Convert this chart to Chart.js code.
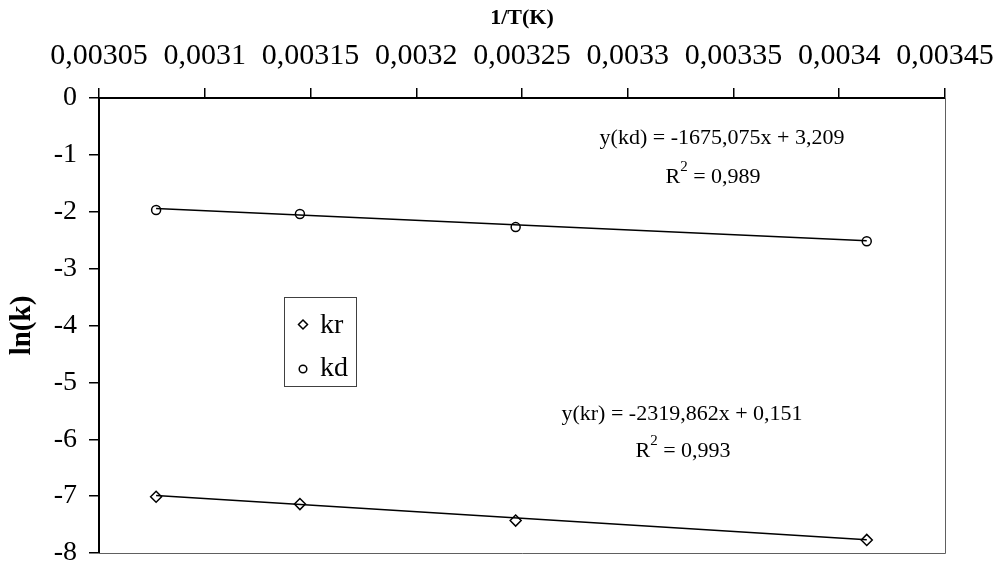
<!DOCTYPE html>
<html lang="en">
	<head>
		<meta charset="UTF-8" />
		<title>ln(k) vs 1/T</title>
		<script src="https://cdn.jsdelivr.net/npm/chart.js@4.4.1/dist/chart.umd.min.js"></script>
		<style>
			body {
				margin: 0;
				background: #fff;
			}
			#wrap {
				width: 1002px;
				height: 567px;
			}
		</style>
	</head>
	<body>
		<div id="wrap"><canvas id="arrhenius" width="1002" height="567"></canvas></div>
		<script>
			// Data
			const xTicks = [0.00305, 0.0031, 0.00315, 0.0032, 0.00325, 0.0033, 0.00335, 0.0034, 0.00345]
			const yTicks = [-8, -7, -6, -5, -4, -3, -2, -1, 0]
			const invT = [0.003077, 0.003145, 0.003247, 0.003413]
			const lnKr = [-7.01, -7.14, -7.43, -7.77]
			const lnKd = [-1.97, -2.04, -2.27, -2.52]
			// trend line end points (first and last 1/T)
			const fitX = [0.003077, 0.003413]
			const krFit = [-6.987, -7.767]
			const kdFit = [-1.945, -2.508]

			const serif = '"Liberation Serif", "Times New Roman", serif'

			function pts(xs, ys) {
				return xs.map((x, i) => ({ x: x, y: ys[i] }))
			}

			function fmt(v) {
				return Number(v.toFixed(6)).toString().replace('.', ',')
			}

			// text on the plot: equations, legend box, grey frame
			const extras = {
				id: 'extras',
				beforeDraw(chart) {
					const ctx = chart.ctx
					ctx.save()
					ctx.fillStyle = '#fff'
					ctx.fillRect(0, 0, chart.width, chart.height)
					ctx.restore()
				},
				afterDraw(chart) {
					const ctx = chart.ctx
					const a = chart.chartArea
					ctx.save()

					// right + bottom frame
					ctx.strokeStyle = '#606060'
					ctx.lineWidth = 1
					ctx.beginPath()
					ctx.moveTo(a.left, a.bottom + 0.5)
					ctx.lineTo(a.right + 0.5, a.bottom + 0.5)
					ctx.lineTo(a.right + 0.5, a.top)
					ctx.stroke()

					// equations
					ctx.fillStyle = '#000'
					ctx.textBaseline = 'middle'
					ctx.textAlign = 'center'
					ctx.font = '22px ' + serif
					ctx.fillText('y(kd) = -1675,075x + 3,209', 722, 138)
					ctx.fillText('y(kr) = -2319,862x + 0,151', 682, 414)
					drawR2(ctx, '0,989', 713, 177)
					drawR2(ctx, '0,993', 683, 451)

					// legend box
					ctx.strokeStyle = '#404040'
					ctx.lineWidth = 1
					ctx.strokeRect(284.5, 297.5, 72, 89)
					ctx.strokeStyle = '#000'
					ctx.lineWidth = 1.5
					ctx.beginPath()
					ctx.moveTo(303, 320)
					ctx.lineTo(307.5, 324.5)
					ctx.lineTo(303, 329)
					ctx.lineTo(298.5, 324.5)
					ctx.closePath()
					ctx.stroke()
					ctx.beginPath()
					ctx.arc(303, 369, 3.8, 0, Math.PI * 2)
					ctx.stroke()
					ctx.textAlign = 'left'
					ctx.font = '28px ' + serif
					ctx.fillText(chart.data.datasets[0].label, 320, 326)
					ctx.fillText(chart.data.datasets[1].label, 320, 369)
					ctx.restore()
				},
			}

			function drawR2(ctx, val, cx, cy) {
				ctx.save()
				ctx.textAlign = 'left'
				ctx.font = '22px ' + serif
				const wR = ctx.measureText('R').width
				const rest = ' = ' + val
				const wRest = ctx.measureText(rest).width
				ctx.font = '15px ' + serif
				const w2 = ctx.measureText('2').width
				const x0 = cx - (wR + w2 + wRest) / 2
				ctx.font = '22px ' + serif
				ctx.fillText('R', x0, cy)
				ctx.fillText(rest, x0 + wR + w2, cy)
				ctx.font = '15px ' + serif
				ctx.fillText('2', x0 + wR, cy - 10)
				ctx.restore()
			}

			const ctx = document.getElementById('arrhenius').getContext('2d')
			new Chart(ctx, {
				type: 'scatter',
				data: {
					datasets: [
						{
							label: 'kr',
							data: pts(invT, lnKr),
							pointStyle: 'rectRot',
							pointRadius: 5.5,
							borderColor: '#000',
							backgroundColor: 'rgba(0,0,0,0)',
							borderWidth: 1.5,
							order: 0,
						},
						{
							label: 'kd',
							data: pts(invT, lnKd),
							pointStyle: 'circle',
							pointRadius: 4.5,
							borderColor: '#000',
							backgroundColor: 'rgba(0,0,0,0)',
							borderWidth: 1.5,
							order: 0,
						},
						{
							label: 'kr fit',
							data: pts(fitX, krFit),
							showLine: true,
							pointRadius: 0,
							borderColor: '#000',
							borderWidth: 1.5,
							order: 1,
						},
						{
							label: 'kd fit',
							data: pts(fitX, kdFit),
							showLine: true,
							pointRadius: 0,
							borderColor: '#000',
							borderWidth: 1.5,
							order: 1,
						},
					],
				},
				options: {
					responsive: false,
					devicePixelRatio: 1,
					animation: false,
					layout: { padding: { top: 0, left: 0, right: 57, bottom: 14 } },
					plugins: {
						legend: { display: false },
						tooltip: { enabled: false },
					},
					scales: {
						x: {
							type: 'linear',
							position: 'top',
							min: 0.00305,
							max: 0.00345,
							afterBuildTicks: scale => {
								scale.ticks = xTicks.map(v => ({ value: v }))
							},
							afterFit: scale => {
								scale.height = 98
								scale.paddingLeft = 0
								scale.paddingRight = 0
							},
							ticks: {
								callback: v => fmt(v),
								color: '#000',
								font: { family: serif, size: 30 },
								padding: 14,
								maxRotation: 0,
								autoSkip: false,
							},
							grid: {
								drawOnChartArea: false,
								drawTicks: true,
								tickLength: 10,
								color: '#000',
								lineWidth: 1.5,
							},
							border: { display: true, color: '#000', width: 2 },
							title: {
								display: true,
								text: '1/T(K)',
								color: '#000',
								font: { family: serif, size: 22, weight: 'bold' },
								padding: { top: 5, bottom: 0 },
							},
						},
						y: {
							type: 'linear',
							min: -8,
							max: 0,
							afterBuildTicks: scale => {
								scale.ticks = yTicks.map(v => ({ value: v }))
							},
							afterFit: scale => {
								scale.width = 99
								scale.paddingTop = 0
								scale.paddingBottom = 0
							},
							ticks: {
								callback: v => String(v),
								color: '#000',
								font: { family: serif, size: 28 },
								padding: 12,
								autoSkip: false,
							},
							grid: {
								drawOnChartArea: false,
								drawTicks: true,
								tickLength: 10,
								color: '#000',
								lineWidth: 1.5,
							},
							border: { display: true, color: '#000', width: 2 },
							title: {
								display: true,
								text: 'ln(k)',
								color: '#000',
								font: { family: serif, size: 29, weight: 'bold' },
								padding: { top: 5, bottom: 0 },
							},
						},
					},
				},
				plugins: [extras],
			})
		</script>
	</body>
</html>
